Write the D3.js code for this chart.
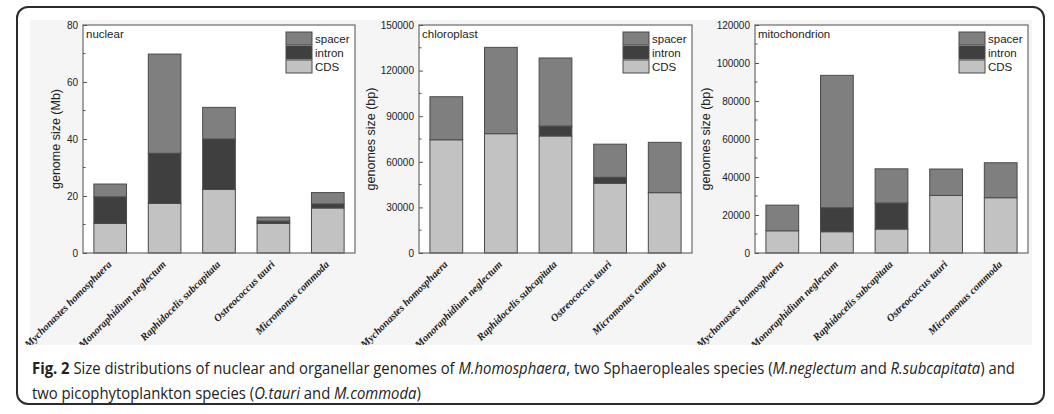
<!DOCTYPE html>
<html>
<head>
<meta charset="utf-8">
<script src="https://cdn.jsdelivr.net/npm/d3@7"></script>
<style>
  html, body { margin: 0; padding: 0; background: #fff; }
  svg { display: block; }
</style>
</head>
<body>
<svg id="chart" width="1054" height="414"></svg>
<script>
// ---- data ----
const categories = ["Mychonastes homosphaera", "Monoraphidium neglectum", "Raphidocelis subcapitata", "Ostreococcus tauri", "Micromonas commoda"];
const seriesNames = ["CDS", "intron", "spacer"];
const legendOrder = ["spacer", "intron", "CDS"];

const nuclearCDS    = [10.4, 17.4, 22.3, 10.4, 15.8];
const nuclearIntron = [9.3, 17.6, 17.7, 0.8, 1.4];
const nuclearSpacer = [4.5, 34.8, 11.1, 1.4, 4.0];

const chloroCDS    = [74500, 78500, 77000, 45900, 39700];
const chloroIntron = [0, 0, 6500, 3900, 0];
const chloroSpacer = [28300, 56800, 44800, 21800, 33100];

const mitoCDS    = [11700, 11200, 12600, 30300, 29100];
const mitoIntron = [0, 12600, 13700, 0, 0];
const mitoSpacer = [13500, 69700, 18000, 13900, 18400];

const nuclearTicks = [0, 20, 40, 60, 80];
const chloroTicks  = [0, 30000, 60000, 90000, 120000, 150000];
const mitoTicks    = [0, 20000, 40000, 60000, 80000, 100000, 120000];

const panelTitles = ["nuclear", "chloroplast", "mitochondrion"];
const axisTitles  = ["genome size (Mb)", "genomes size (bp)", "genomes size (bp)"];

// ---- styling / layout ----
const colors = { spacer: "#7f7f7f", intron: "#3f3f3f", CDS: "#c2c2c2" };
const panels = [
  { title: panelTitles[0], ytitle: axisTitles[0], cds: nuclearCDS, intron: nuclearIntron, spacer: nuclearSpacer, ticks: nuclearTicks, left: 83, right: 355, ytx: 57 },
  { title: panelTitles[1], ytitle: axisTitles[1], cds: chloroCDS, intron: chloroIntron, spacer: chloroSpacer, ticks: chloroTicks, left: 419, right: 692, ytx: 372 },
  { title: panelTitles[2], ytitle: axisTitles[2], cds: mitoCDS, intron: mitoIntron, spacer: mitoSpacer, ticks: mitoTicks, left: 755, right: 1028, ytx: 707 }
];
const plotTop = 25, plotBottom = 253;

const svg = d3.select("#chart");

// outer frame
svg.append("rect").attr("x", 17).attr("y", 7).attr("width", 1027).attr("height", 397)
  .attr("rx", 11).attr("ry", 11).attr("fill", "#fff").attr("stroke", "#2b2b2b").attr("stroke-width", 2);
// figure panel background
svg.append("rect").attr("x", 30).attr("y", 20).attr("width", 1002).attr("height", 325).attr("fill", "#f5f5f5");
svg.append("defs").append("clipPath").attr("id", "figclip")
  .append("rect").attr("x", 19).attr("y", 9).attr("width", 1023).attr("height", 336);

const sans = "Liberation Sans, Arial, sans-serif";

panels.forEach(p => {
  const g = svg.append("g").attr("clip-path", "url(#figclip)");
  const x = d3.scaleBand().domain(categories).range([p.left, p.right]).paddingInner(0.4).paddingOuter(0.2);
  const ymax = p.ticks[p.ticks.length - 1];
  const y = d3.scaleLinear().domain([0, ymax]).range([plotBottom, plotTop]);

  // plot area
  g.append("rect").attr("x", p.left).attr("y", plotTop).attr("width", p.right - p.left).attr("height", plotBottom - plotTop)
    .attr("fill", "#fff");

  // stacked data
  const rows = categories.map((c, i) => ({ cat: c, CDS: p.cds[i], intron: p.intron[i], spacer: p.spacer[i] }));
  const stacked = d3.stack().keys(seriesNames)(rows);
  stacked.forEach(layer => {
    g.append("g").selectAll("rect").data(layer.filter(d => d[1] - d[0] > 0)).join("rect")
      .attr("x", d => x(d.data.cat))
      .attr("width", x.bandwidth())
      .attr("y", d => y(d[1]))
      .attr("height", d => y(d[0]) - y(d[1]))
      .attr("fill", colors[layer.key])
      .attr("stroke", "#4a4a4a")
      .attr("stroke-width", 1);
  });

  // frame
  g.append("rect").attr("x", p.left).attr("y", plotTop).attr("width", p.right - p.left).attr("height", plotBottom - plotTop)
    .attr("fill", "none").attr("stroke", "#6a6a6a").attr("stroke-width", 1.2);

  // y axis
  const yAxis = d3.axisLeft(y).tickValues(p.ticks).tickSize(-4).tickPadding(5).tickFormat(d3.format("d"));
  const ya = g.append("g").attr("transform", `translate(${p.left},0)`).call(yAxis);
  ya.select(".domain").remove();
  ya.selectAll("line").attr("stroke", "#555");
  ya.selectAll("text").attr("font-family", sans).attr("font-size", 10).attr("fill", "#222");
  // minor ticks
  const step = p.ticks[1] - p.ticks[0];
  const minor = p.ticks.slice(0, -1).map(t => t + step / 2);
  g.append("g").selectAll("line").data(minor).join("line")
    .attr("x1", p.left).attr("x2", p.left + 2.5)
    .attr("y1", d => y(d)).attr("y2", d => y(d))
    .attr("stroke", "#555");

  // y title
  g.append("text").attr("transform", `translate(${p.ytx},${(plotTop + plotBottom) / 2}) rotate(-90)`)
    .attr("text-anchor", "middle").attr("dominant-baseline", "middle")
    .attr("font-family", sans).attr("font-size", 12.5).attr("fill", "#222").text(p.ytitle);

  // panel title
  g.append("text").attr("x", p.left + 3).attr("y", plotTop + 13).attr("font-family", sans).attr("font-size", 11.5)
    .attr("fill", "#222").text(p.title);

  // x labels
  g.append("g").selectAll("text").data(categories).join("text")
    .attr("transform", d => `translate(${x(d) + x.bandwidth() / 2 + 2},${plotBottom + 12}) rotate(-45)`)
    .attr("text-anchor", "end")
    .attr("font-family", "Liberation Serif, Times New Roman, serif")
    .attr("font-style", "italic").attr("font-weight", "bold")
    .attr("font-size", 10.5).attr("fill", "#222")
    .text(d => d);

  // legend
  const lx = p.right - 69, ly = 32, bh = 14, bw = 26;
  const lg = g.append("g");
  legendOrder.forEach((k, i) => {
    lg.append("rect").attr("x", lx).attr("y", ly + i * bh).attr("width", bw).attr("height", bh - 1)
      .attr("fill", colors[k]).attr("stroke", "#4a4a4a").attr("stroke-width", 1);
    lg.append("text").attr("x", lx + bw + 3).attr("y", ly + i * bh + 11)
      .attr("font-family", sans).attr("font-size", 11.5).attr("fill", "#222").text(k);
  });
});

// caption
const capFont = "Open Sans, Noto Sans, sans-serif";
function caption(parts) {
  const t = svg.append("text").attr("x", 0).attr("y", 0).attr("font-family", capFont).attr("font-size", 15.5).attr("fill", "#222");
  parts.forEach(pt => {
    const ts = t.append("tspan").text(pt.t);
    if (pt.b) ts.attr("font-weight", "bold");
    if (pt.i) ts.attr("font-style", "italic");
  });
  return t;
}
const line1 = caption([
  { t: "Fig. 2", b: true },
  { t: " Size distributions of nuclear and organellar genomes of " },
  { t: "M.homosphaera", i: true },
  { t: ", two Sphaeropleales species (" },
  { t: "M.neglectum", i: true },
  { t: " and " },
  { t: "R.subcapitata", i: true },
  { t: ") and" }
]);
const line2 = caption([
  { t: "two picophytoplankton species (" },
  { t: "O.tauri", i: true },
  { t: " and " },
  { t: "M.commoda", i: true },
  { t: ")" }
]);
const w1 = line1.node().getComputedTextLength();
const sx = 984 / w1;
line1.attr("transform", `translate(32,374) scale(${sx},1)`);
line2.attr("transform", `translate(32,399) scale(${sx},1)`);
</script>
</body>
</html>
